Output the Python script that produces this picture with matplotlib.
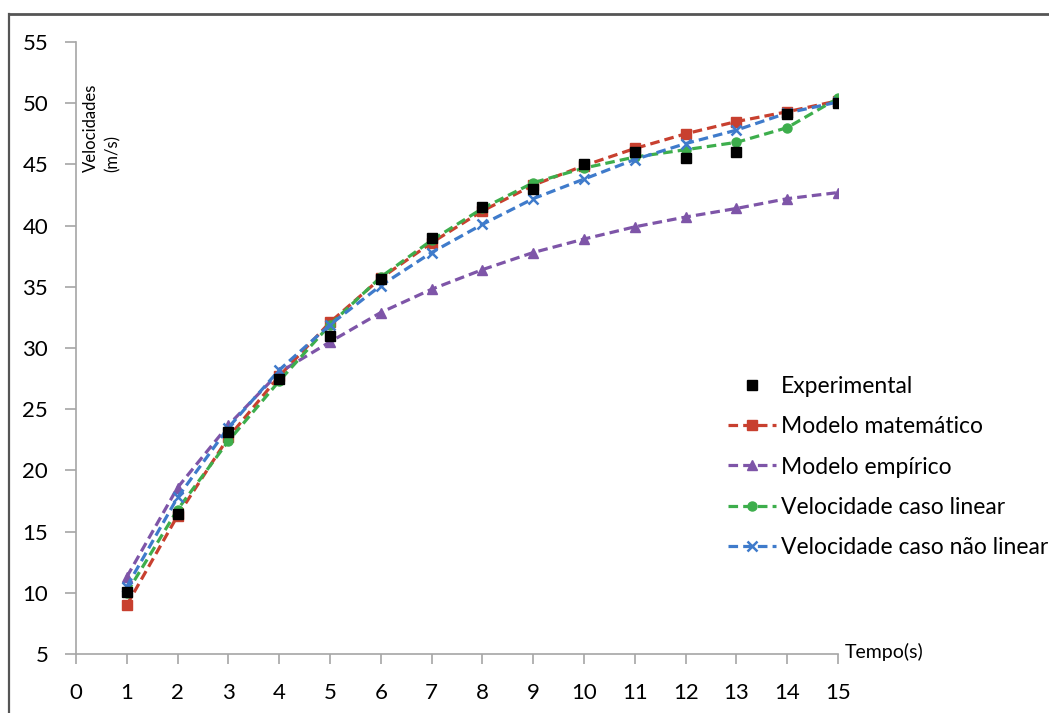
import matplotlib
matplotlib.use("Agg")
import matplotlib.pyplot as plt
from matplotlib.lines import Line2D

plt.rcParams['font.family'] = ['Lato', 'DejaVu Sans']

tempo = list(range(1, 16))
experimental = [10.1, 16.4, 23.1, 27.5, 31.0, 35.6, 39.0, 41.5, 43.0, 45.0, 46.0, 45.5, 46.0, 49.1, 50.0]
modelo_matematico = [9.0, 16.3, 22.7, 27.7, 32.1, 35.7, 38.6, 41.2, 43.3, 44.9, 46.3, 47.5, 48.5, 49.3, 50.2]
modelo_empirico = [11.3, 18.6, 23.7, 28.0, 30.5, 32.9, 34.8, 36.4, 37.8, 38.9, 39.9, 40.7, 41.4, 42.2, 42.7]
vel_linear = [10.0, 16.8, 22.4, 27.3, 31.9, 35.8, 38.8, 41.4, 43.5, 44.7, 45.6, 46.2, 46.8, 48.0, 50.4]
vel_nao_linear = [10.5, 17.8, 23.5, 28.2, 31.9, 35.1, 37.8, 40.1, 42.2, 43.8, 45.4, 46.7, 47.8, 49.2, 50.1]

x_ticks = list(range(0, 16))
y_ticks = list(range(5, 56, 5))

W, H = 1049, 713
fig = plt.figure(figsize=(W / 100, H / 100), dpi=100)
ax = fig.add_axes([76 / W, 1 - 654 / H, (838 - 76) / W, (654 - 42) / H])

dash = (0, (3.0, 1.6))
lw = 2.3
ms = 6.5
ax.plot(tempo, modelo_matematico, linestyle=dash, lw=lw, color='#C8402F',
        marker='s', ms=ms, label='Modelo matemático', zorder=3)
ax.plot(tempo, modelo_empirico, linestyle=dash, lw=lw, color='#7E55A8',
        marker='^', ms=ms, label='Modelo empírico', zorder=3)
ax.plot(tempo, vel_linear, linestyle=dash, lw=lw, color='#3DAE4C',
        marker='o', ms=ms, label='Velocidade caso linear', zorder=3)
ax.plot(tempo, vel_nao_linear, linestyle=dash, lw=lw, color='#3F7BCB',
        marker='x', ms=ms, mew=1.8, label='Velocidade caso não linear', zorder=3)
ax.plot(tempo, experimental, linestyle='none', color='black',
        marker='s', ms=ms + 1, label='Experimental', zorder=4)

ax.set_xlim(0, 15)
ax.set_ylim(5, 55)
ax.set_xticks(x_ticks)
ax.set_yticks(y_ticks)
ax.tick_params(axis='x', direction='out', length=7, width=1.2, color='#A6A6A6',
               labelsize=16, pad=14)
ax.tick_params(axis='y', direction='out', length=8, width=1.2, color='#A6A6A6',
               labelsize=16, pad=12)
for side in ('top', 'right'):
    ax.spines[side].set_visible(False)
for side in ('left', 'bottom'):
    ax.spines[side].set_color('#A6A6A6')
    ax.spines[side].set_linewidth(1.2)

# axis titles
fig.text(91 / W, 1 - 172 / H, 'Velocidades', rotation=90, ha='center', va='bottom', fontsize=12)
fig.text(113 / W, 1 - 172 / H, '(m/s)', rotation=90, ha='center', va='bottom', fontsize=12)
fig.text(845 / W, 1 - 652 / H, 'Tempo(s)', ha='left', va='center', fontsize=14)

handles, labels = ax.get_legend_handles_labels()
order = [4, 0, 1, 2, 3]
fig.legend([handles[i] for i in order], [labels[i] for i in order],
           loc='upper left', bbox_to_anchor=(728 / W, 1 - 376 / H),
           frameon=False, fontsize=16.5, handlelength=2.1, handletextpad=0.2,
           labelspacing=0.84, borderaxespad=0, borderpad=0)

# outer frame lines
fig.add_artist(Line2D([8.5 / W, 1], [1 - 13.5 / H, 1 - 13.5 / H], color='#555555', lw=2))
fig.add_artist(Line2D([8.5 / W, 8.5 / W], [0, 1 - 13.5 / H], color='#555555', lw=1.6))

fig.savefig('out.png', dpi=100)
